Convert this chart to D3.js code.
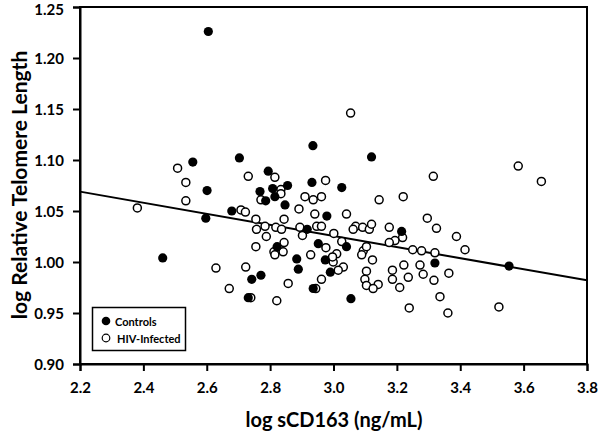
<!DOCTYPE html>
<html>
<head>
<meta charset="utf-8">
<script src="https://cdn.jsdelivr.net/npm/d3@7"></script>
<style>
body { margin: 0; background: #fff; }
text { font-family: Lato, "Open Sans", sans-serif; font-weight: bold; fill: #000; }
</style>
</head>
<body>
<svg id="chart" width="600" height="437"></svg>
<script>
// Controls (filled)
var controlsX = [2.605, 2.556, 2.601, 2.597, 2.703, 2.935, 2.794, 2.855, 2.768, 2.808, 2.786, 2.815,
  2.932, 2.847, 2.679, 2.979, 2.917, 3.120, 3.026, 3.215, 2.461, 2.822, 2.884, 2.889, 2.952, 2.974,
  2.742, 2.771, 2.936, 2.731, 2.990, 3.055, 3.554, 3.320, 3.041];
var controlsY = [1.226, 1.098, 1.070, 1.043, 1.102, 1.114, 1.089, 1.075, 1.069, 1.072, 1.060, 1.064,
  1.078, 1.056, 1.050, 1.045, 1.032, 1.103, 1.073, 1.030, 1.004, 1.015, 1.003, 0.993, 1.018, 1.002,
  0.983, 0.987, 0.974, 0.965, 0.990, 0.964, 0.996, 0.999, 1.015];

// HIV-infected (open)
var hivX = [2.381, 2.508, 2.534, 2.534, 2.731, 2.815, 2.834, 2.834, 2.771, 2.708, 2.722, 2.975,
  2.910, 2.936, 2.962, 2.891, 2.941, 2.844, 2.755, 2.784, 2.757, 2.818, 2.836, 2.894, 2.947, 2.962,
  2.788, 2.902, 3.144, 3.220, 3.315, 3.041, 3.296, 3.325, 3.070, 3.062, 3.092, 3.113, 3.120, 3.176,
  3.218, 3.001, 3.583, 3.656, 3.388, 3.415, 3.364, 3.336, 3.361, 3.522, 3.054, 2.755, 2.812, 2.815,
  2.841, 2.844, 2.928, 2.976, 2.629, 2.723, 2.671, 2.857, 2.962, 2.944, 2.739, 2.821, 3.026, 3.010,
  2.999, 3.031, 3.015, 3.094, 3.089, 3.104, 3.123, 3.194, 3.176, 3.250, 3.278, 3.320, 3.186, 3.222,
  3.273, 3.236, 3.283, 3.317, 3.104, 3.099, 3.104, 3.141, 3.125, 3.209, 3.186, 3.239, 2.997];
var hivY = [1.053, 1.092, 1.078, 1.060, 1.084, 1.083, 1.071, 1.067, 1.061, 1.051, 1.049, 1.080,
  1.064, 1.061, 1.064, 1.052, 1.047, 1.042, 1.042, 1.035, 1.032, 1.034, 1.032, 1.034, 1.035, 1.035,
  1.025, 1.026, 1.061, 1.064, 1.084, 1.047, 1.043, 1.033, 1.035, 1.032, 1.034, 1.032, 1.037, 1.034,
  1.024, 1.028, 1.094, 1.079, 1.025, 1.012, 0.989, 0.966, 0.950, 0.956, 1.146, 1.015, 1.010, 1.007,
  1.010, 1.019, 1.007, 1.014, 0.994, 0.995, 0.974, 0.979, 0.983, 0.974, 0.965, 0.962, 1.020, 1.008,
  1.000, 0.995, 0.992, 1.011, 1.007, 1.015, 1.002, 1.021, 1.019, 1.012, 1.011, 1.009, 0.992, 0.997,
  0.997, 0.985, 0.988, 0.982, 0.991, 0.983, 0.977, 0.978, 0.974, 0.975, 0.983, 0.955, 1.005];

// regression line end points
var fitX = [2.2, 3.8];
var fitY = [1.069, 0.982];

var xTicks = [2.2, 2.4, 2.6, 2.8, 3.0, 3.2, 3.4, 3.6, 3.8];
var yTicks = [0.90, 0.95, 1.00, 1.05, 1.10, 1.15, 1.20, 1.25];

var svg = d3.select("#chart");
var plotL = 80, plotR = 587, plotT = 7, plotB = 364;

var x = d3.scaleLinear().domain([2.2, 3.8]).range([plotL, plotR]);
var y = d3.scaleLinear().domain([0.90, 1.25]).range([plotB, plotT]);

// frame
svg.append("rect").attr("x", plotL).attr("y", plotT)
  .attr("width", plotR - plotL).attr("height", plotB - plotT)
  .attr("fill", "none").attr("stroke", "#000").attr("stroke-width", 2);

// axes
var xAxis = svg.append("g").attr("transform", "translate(0," + plotB + ")")
  .call(d3.axisBottom(x).tickValues(xTicks).tickFormat(d3.format(".1f")).tickSize(7).tickPadding(9));
var yAxis = svg.append("g").attr("transform", "translate(" + plotL + ",0)")
  .call(d3.axisLeft(y).tickValues(yTicks).tickFormat(d3.format(".2f")).tickSize(7).tickPadding(9));
[xAxis, yAxis].forEach(function(g) {
  g.select(".domain").attr("stroke-width", 2);
  g.selectAll(".tick line").attr("stroke-width", 2);
  g.selectAll(".tick text").style("font-size", "15px").style("font-family", "Lato, sans-serif").style("font-weight", "bold");
});
xAxis.selectAll(".tick text").attr("dy", "0.85em");
yAxis.selectAll(".tick text").attr("dy", "0.36em");
// keep the top label inside the page
yAxis.selectAll(".tick text").filter(function(d) { return d === 1.25; }).attr("y", 2);

// titles
svg.append("text").attr("x", 334).attr("y", 427).attr("text-anchor", "middle")
  .style("font-size", "20px").text("log sCD163 (ng/mL)");
svg.append("text").attr("transform", "translate(27,185) rotate(-90)")
  .attr("text-anchor", "middle").style("font-size", "21px").text("log Relative Telomere Length");

// fit line
svg.append("line")
  .attr("x1", x(fitX[0])).attr("y1", y(fitY[0]))
  .attr("x2", x(fitX[1])).attr("y2", y(fitY[1]))
  .attr("stroke", "#000").attr("stroke-width", 2);

// points
svg.append("g").selectAll("circle").data(hivX).enter().append("circle")
  .attr("cx", function(d) { return x(d); })
  .attr("cy", function(d, i) { return y(hivY[i]); })
  .attr("r", 4).attr("fill", "#fff").attr("stroke", "#000").attr("stroke-width", 1.5);

svg.append("g").selectAll("circle").data(controlsX).enter().append("circle")
  .attr("cx", function(d) { return x(d); })
  .attr("cy", function(d, i) { return y(controlsY[i]); })
  .attr("r", 4.6).attr("fill", "#000");

// legend
var lg = svg.append("g");
lg.append("rect").attr("x", 92.5).attr("y", 307.5).attr("width", 93).attr("height", 43)
  .attr("fill", "#fff").attr("stroke", "#000").attr("stroke-width", 1.5);
lg.append("circle").attr("cx", 106).attr("cy", 321).attr("r", 4.3).attr("fill", "#000");
lg.append("circle").attr("cx", 106).attr("cy", 338).attr("r", 3.8).attr("fill", "#fff")
  .attr("stroke", "#000").attr("stroke-width", 1.2);
lg.append("text").attr("x", 115).attr("y", 326).style("font-size", "11px").text("Controls");
lg.append("text").attr("x", 117).attr("y", 343).style("font-size", "11px").text("HIV-Infected");
</script>
</body>
</html>
